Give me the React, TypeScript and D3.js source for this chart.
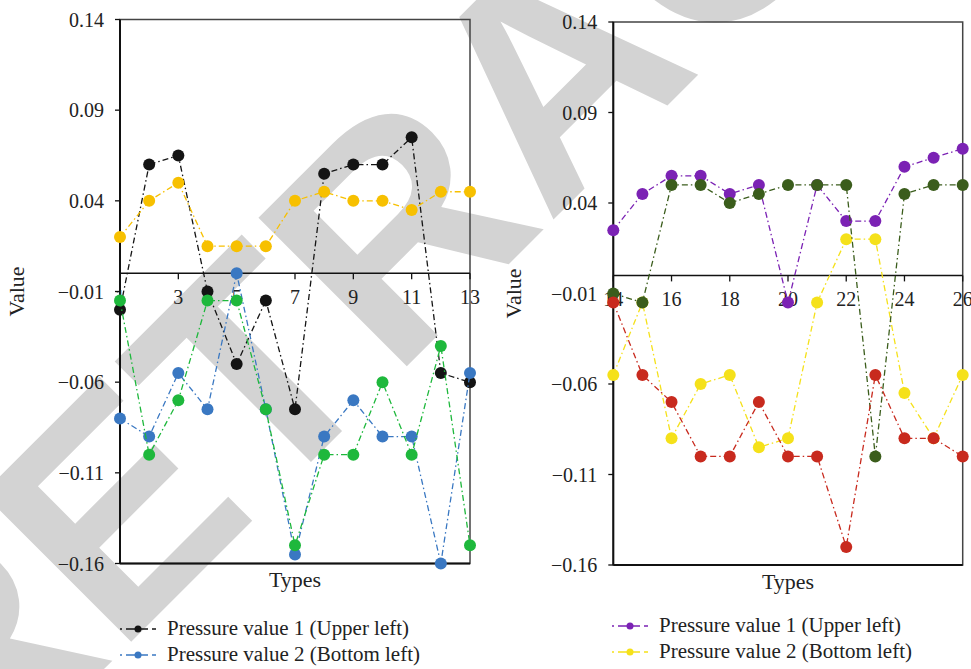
import React from "react";
import * as d3 from "d3";

// ---------- data ----------
const leftTypes = [1, 2, 3, 4, 5, 6, 7, 8, 9, 10, 11, 12, 13];
const rightTypes = [14, 15, 16, 17, 18, 19, 20, 21, 22, 23, 24, 25, 26];

const leftUpperLeft = [-0.02, 0.06, 0.065, -0.01, -0.05, -0.015, -0.075, 0.055, 0.06, 0.06, 0.075, -0.055, -0.06];
const leftBottomLeft = [-0.08, -0.09, -0.055, -0.075, 0.0, -0.075, -0.155, -0.09, -0.07, -0.09, -0.09, -0.16, -0.055];
const leftSeries3 = [0.02, 0.04, 0.05, 0.015, 0.015, 0.015, 0.04, 0.045, 0.04, 0.04, 0.035, 0.045, 0.045];
const leftSeries4 = [-0.015, -0.1, -0.07, -0.015, -0.015, -0.075, -0.15, -0.1, -0.1, -0.06, -0.1, -0.04, -0.15];

const rightUpperLeft = [0.025, 0.045, 0.055, 0.055, 0.045, 0.05, -0.015, 0.05, 0.03, 0.03, 0.06, 0.065, 0.07];
const rightBottomLeft = [-0.055, -0.015, -0.09, -0.06, -0.055, -0.095, -0.09, -0.015, 0.02, 0.02, -0.065, -0.09, -0.055];
const rightSeries3 = [-0.01, -0.015, 0.05, 0.05, 0.04, 0.045, 0.05, 0.05, 0.05, -0.1, 0.045, 0.05, 0.05];
const rightSeries4 = [-0.015, -0.055, -0.07, -0.1, -0.1, -0.07, -0.1, -0.1, -0.15, -0.055, -0.09, -0.09, -0.1];

const yTicks = [0.14, 0.09, 0.04, -0.01, -0.06, -0.11, -0.16];
const leftXTicks = [1, 3, 5, 7, 9, 11, 13];
const rightXTicks = [14, 16, 18, 20, 22, 24, 26];
const legendLabels = ["Pressure value 1 (Upper left)", "Pressure value 2 (Bottom left)"];
const watermarkText = "RETRACTED";

// ---------- styling ----------
const FONT = "'Liberation Serif', 'Times New Roman', serif";
const FS = 20;
const DASH = "6,3,1.5,3";

type Series = { values: number[]; color: string };

type PanelProps = {
  types: number[];
  series: Series[];
  legend: Series[];
  xTicks: number[];
  x0: number;
  x1: number;
  yTop: number;
  yBottom: number;
  yLabelX: number;
  legendX: number;
  legendY: number;
};

function fmt(v: number) {
  const s = Math.abs(v).toFixed(2);
  return v < 0 ? "\u2212" + s : s;
}

function Panel(p: PanelProps) {
  const x = d3.scaleLinear().domain([p.types[0], p.types[p.types.length - 1]]).range([p.x0, p.x1]);
  const y = d3.scaleLinear().domain([-0.16, 0.14]).range([p.yBottom, p.yTop]);
  const line = d3
    .line<number>()
    .x((_, i) => x(p.types[i]))
    .y((d) => y(d));
  const y0 = y(0);
  const midX = (p.x0 + p.x1) / 2;
  return (
    <g>
      {/* frame */}
      <rect x={p.x0} y={p.yTop} width={p.x1 - p.x0} height={p.yBottom - p.yTop} fill="none" stroke="#444" strokeWidth={1.5} />
      <line x1={p.x0} x2={p.x0} y1={p.yTop} y2={p.yBottom} stroke="#111" strokeWidth={2} />
      <line x1={p.x0} x2={p.x1} y1={p.yBottom} y2={p.yBottom} stroke="#111" strokeWidth={1.8} />
      {/* x axis at zero */}
      <line x1={p.x0} x2={p.x1} y1={y0} y2={y0} stroke="#111" strokeWidth={1.5} />
      {p.xTicks.map((t) => (
        <g key={"xt" + t}>
          <line x1={x(t)} x2={x(t)} y1={y0} y2={y0 + 6} stroke="#111" strokeWidth={1.3} />
          <text x={x(t)} y={y0 + 31} fontSize={FS} textAnchor="middle" fontFamily={FONT} fill="#222">
            {t}
          </text>
        </g>
      ))}
      {yTicks.map((t) => (
        <g key={"yt" + t}>
          <line x1={p.x0 - 5} x2={p.x0} y1={y(t)} y2={y(t)} stroke="#111" strokeWidth={1.3} />
          <text x={p.x0 - 16} y={y(t) + 7} fontSize={FS} textAnchor="end" fontFamily={FONT} fill="#222">
            {fmt(t)}
          </text>
        </g>
      ))}
      <text
        transform={`translate(${p.yLabelX},${(p.yTop + p.yBottom) / 2}) rotate(-90)`}
        fontSize={FS}
        textAnchor="middle"
        fontFamily={FONT}
        fill="#222"
        textLength={50}
        lengthAdjust="spacingAndGlyphs"
      >
        Value
      </text>
      <text
        x={midX}
        y={p.yBottom + 23.5}
        fontSize={FS}
        textAnchor="middle"
        fontFamily={FONT}
        fill="#222"
        textLength={52}
        lengthAdjust="spacingAndGlyphs"
      >
        Types
      </text>
      {/* series */}
      {p.series.map((s, si) => (
        <g key={"s" + si}>
          <path d={line(s.values) || ""} fill="none" stroke={s.color} strokeWidth={1.3} strokeDasharray={DASH} />
          {s.values.map((v, i) => (
            <circle key={i} cx={x(p.types[i])} cy={y(v)} r={6} fill={s.color} />
          ))}
        </g>
      ))}
      {/* legend */}
      {p.legend.map((s, i) => {
        const ly = p.legendY + i * 26;
        return (
          <g key={"lg" + i}>
            <line x1={p.legendX} x2={p.legendX + 36} y1={ly} y2={ly} stroke={s.color} strokeWidth={1.3} strokeDasharray="2,4,22,4,5" />
            <circle cx={p.legendX + 18} cy={ly} r={3.5} fill={s.color} />
            <text
              x={p.legendX + 47}
              y={ly + 5.5}
              fontSize={FS}
              fontFamily={FONT}
              fill="#222"
              textLength={i === 0 ? 242 : 253}
              lengthAdjust="spacingAndGlyphs"
            >
              {legendLabels[i]}
            </text>
          </g>
        );
      })}
    </g>
  );
}

export default function App() {
  const black = "#141414";
  const blue = "#3a78c2";
  const orange = "#f7c000";
  const green = "#1eb83c";
  const purple = "#7b22b4";
  const yellow = "#f5e11a";
  const dgreen = "#3b5d1c";
  const red = "#c82a1e";

  return (
    <svg width={971} height={669} style={{ position: "absolute", left: 0, top: 0, background: "#fff" }}>
      <rect width={971} height={669} fill="#fff" />
      <text
        transform="translate(626,147) rotate(-45)"
        fontSize={305}
        fontWeight="bold"
        fontFamily="'Liberation Sans', Arial, sans-serif"
        textAnchor="middle"
        fill="#d3d3d3"
      >
        {watermarkText}
      </text>
      <Panel
        types={leftTypes}
        series={[
          { values: leftUpperLeft, color: black },
          { values: leftBottomLeft, color: blue },
          { values: leftSeries3, color: orange },
          { values: leftSeries4, color: green },
        ]}
        legend={[
          { values: leftUpperLeft, color: black },
          { values: leftBottomLeft, color: blue },
        ]}
        xTicks={leftXTicks}
        x0={120}
        x1={470}
        yTop={19.5}
        yBottom={563.5}
        yLabelX={24}
        legendX={120}
        legendY={629}
      />
      <Panel
        types={rightTypes}
        series={[
          { values: rightUpperLeft, color: purple },
          { values: rightBottomLeft, color: yellow },
          { values: rightSeries3, color: dgreen },
          { values: rightSeries4, color: red },
        ]}
        legend={[
          { values: rightUpperLeft, color: purple },
          { values: rightBottomLeft, color: yellow },
        ]}
        xTicks={rightXTicks}
        x0={613.3}
        x1={962.7}
        yTop={22}
        yBottom={565}
        yLabelX={521}
        legendX={612}
        legendY={626}
      />
    </svg>
  );
}
